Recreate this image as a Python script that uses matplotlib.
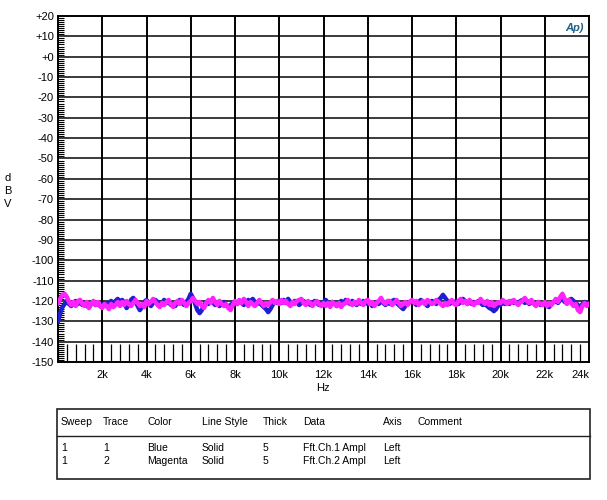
import numpy as np
import matplotlib

matplotlib.use("Agg")
import matplotlib.pyplot as plt
from matplotlib.ticker import MultipleLocator, FixedLocator

plt.rcParams["font.family"] = ["Liberation Sans", "DejaVu Sans"]

# %%
# FFT amplitude, dBV at 100 Hz steps (0 .. 24 kHz)
# one row per kHz
ch1_dbv = [
    -130, -126, -123, -121.5, -120, -121.5, -122.5, -121, -120, -121.5,
    -120.5, -122, -121, -122.5, -123, -121.5, -120.5, -122, -121, -122.5,
    -122, -121, -122.5, -121, -120, -121.5, -120, -119, -120.5, -119.5,
    -121, -123.5, -122, -119.5, -118.5, -120, -122.5, -124.5, -123, -120.5,
    -119.5, -121, -122.5, -121, -119.5, -120.5, -122, -121, -119.5, -121,
    -120.5, -122, -121, -122.5, -120.5, -119.5, -121, -122, -120.5, -119,
    -116.5, -118.5, -121.5, -124.5, -126, -124.5, -122, -120.5, -121.5, -120,
    -120.5, -122, -121, -122.5, -121.5, -120.5, -122, -123, -122, -121,
    -120.5, -121.5, -120, -121, -122, -120.5, -119.5, -120.5, -119, -120.5,
    -121.5, -120.5, -122, -123, -124, -125.5, -124, -122, -120.5, -121,
    -120, -121, -119.5, -121, -119, -120.5, -121.5, -120, -120.5, -122,
    -121, -120, -121.5, -120.5, -122, -121.5, -120, -121, -122, -121,
    -120.5, -119.5, -121, -122, -120.5, -121.5, -122.5, -121, -120, -121.5,
    -119.5, -120.5, -121.5, -120, -121, -122, -120.5, -121.5, -120, -121,
    -121.5, -120.5, -122.5, -121.5, -120.5, -121.5, -120, -121, -122, -120.5,
    -121.5, -120, -119.5, -121, -122, -123, -124, -122.5, -121, -120.5,
    -120, -121, -122, -120.5, -119.5, -120.5, -121.5, -122.5, -121, -120,
    -120.5, -121.5, -119.5, -118.5, -117, -118.5, -120, -121.5, -120.5, -121,
    -120, -121.5, -120.5, -119, -120, -121.5, -120.5, -121.5, -120.5, -121,
    -120, -121, -122, -121.5, -122.5, -123.5, -124, -125, -124, -122,
    -122, -120.5, -121.5, -120.5, -121.5, -120, -121, -120.5, -121.5, -120,
    -119.5, -121, -120, -121.5, -120.5, -121, -122, -120.5, -122, -121.5,
    -121, -122.5, -123, -121.5, -120.5, -120, -121, -119.5, -119, -120.5,
    -121, -119.5, -119, -120, -121, -122, -123, -121.5, -120.5, -121.5,
    -122,
]
ch2_dbv = [
    -121, -119, -117, -116.5, -118, -120.5, -122, -120.5, -122.5, -120,
    -119.5, -121.5, -122.5, -120.5, -123.5, -121.5, -120, -122, -120.5, -122.5,
    -123.5, -121.5, -122.5, -124, -121.5, -123, -122, -120.5, -122.5, -120.5,
    -122, -120, -121.5, -122.5, -121, -119.5, -121, -122.5, -121.5, -123,
    -120, -121.5, -120.5, -119, -120.5, -122, -123, -121, -122, -120.5,
    -119.5, -121.5, -123, -121, -120, -121.5, -119.5, -121, -122.5, -121,
    -120, -118.5, -120, -121.5, -120.5, -122.5, -123.5, -121, -119.5, -121,
    -118.5, -120.5, -122, -120, -121.5, -122.5, -121.5, -123.5, -124.5, -122,
    -120, -121.5, -119.5, -121, -119, -120.5, -122.5, -120.5, -121.5, -122.5,
    -121, -119.5, -121, -122.5, -121, -122, -120.5, -119.5, -121, -120,
    -121.5, -119.5, -121, -120, -121.5, -122.5, -120.5, -121.5, -120, -119.5,
    -119, -121, -122, -120, -121, -122.5, -121, -120, -121.5, -122.5,
    -121, -122.5, -121, -123, -120.5, -121.5, -122.5, -121, -123, -121.5,
    -121, -119.5, -121, -122, -120.5, -121.5, -119.5, -121, -122, -120,
    -119.5, -121.5, -120.5, -122.5, -121, -120, -118.5, -120.5, -121.5, -120,
    -120, -122, -121, -119.5, -121, -122.5, -121.5, -120.5, -122, -120.5,
    -119.5, -121, -120, -122, -121, -120, -121.5, -119.5, -120.5, -121.5,
    -121, -119.5, -120.5, -121.5, -122.5, -121, -122, -120.5, -119.5, -121.5,
    -122, -120, -119, -121, -120, -121.5, -119.5, -121, -122, -120.5,
    -121, -119, -120.5, -121.5, -120, -122, -120.5, -122.5, -121.5, -120.5,
    -121, -119.5, -120.5, -121.5, -120, -121, -119.5, -121, -122, -120.5,
    -120, -118.5, -120, -121, -119.5, -121.5, -122.5, -120.5, -121.5, -122,
    -120.5, -122.5, -121, -122, -120.5, -119, -120.5, -118, -116.5, -119,
    -121.5, -119.5, -121, -122.5, -121.5, -124.5, -125.5, -122.5, -121, -122.5,
    -121.5,
]
freq_hz = np.linspace(0, 24000, len(ch1_dbv))

y_ticks = list(range(20, -151, -10))
y_labels = [f"+{v}" if v >= 0 else str(v) for v in y_ticks]
x_ticks = list(range(2000, 24001, 2000))
x_labels = [f"{v // 1000}k" for v in x_ticks]

table_header = ["Sweep", "Trace", "Color", "Line Style", "Thick", "Data", "Axis", "Comment"]
table_rows = [
    ["1", "1", "Blue", "Solid", "5", "Fft.Ch.1 Ampl", "Left", ""],
    ["1", "2", "Magenta", "Solid", "5", "Fft.Ch.2 Ampl", "Left", ""],
]

# %%
W, H = 607, 500
fig = plt.figure(figsize=(W / 100, H / 100), dpi=100)
ax = fig.add_axes([58 / W, 1 - 362 / H, (589 - 58) / W, (362 - 16) / H])

ax.plot(freq_hz, ch1_dbv, color="#1f1fd0", lw=3.2, solid_joinstyle="round", zorder=3)
ax.plot(freq_hz, ch2_dbv, color="#ff22ff", lw=3.2, solid_joinstyle="round", zorder=4)

ax.set_xlim(0, 24000)
ax.set_ylim(-150, 20)

for v in y_ticks[1:-1]:
    ax.axhline(v, color="#3a3a3a", lw=1.4, zorder=1)
for v in x_ticks[:-1]:
    ax.axvline(v, color="black", lw=1.4, zorder=1)

ax.yaxis.set_major_locator(FixedLocator(y_ticks))
ax.set_yticklabels(y_labels)
ax.yaxis.set_minor_locator(MultipleLocator(1))
ax.xaxis.set_major_locator(FixedLocator(x_ticks))
ax.set_xticklabels(x_labels)
ax.xaxis.set_minor_locator(MultipleLocator(400))

ax.tick_params(axis="y", which="major", length=0, pad=3, labelsize=8)
ax.tick_params(axis="y", which="minor", direction="in", length=4, width=0.8)
ax.tick_params(axis="x", which="major", length=0, pad=6, labelsize=8)
ax.tick_params(axis="x", which="minor", direction="in", length=13, width=0.9)
ax.xaxis.get_majorticklabels()[-1].set_horizontalalignment("right")
ax.xaxis.get_majorticklabels()[-1].set_x(24000)

for s in ax.spines.values():
    s.set_linewidth(1.4)

fig.text(8 / W, 1 - 191 / H, "d\nB\nV", ha="center", va="center", fontsize=8, linespacing=1.35)
fig.text(323 / W, 1 - 388 / H, "Hz", ha="center", va="center", fontsize=8)

# Audio Precision logo
fig.text(574 / W, 1 - 28 / H, "Ap)", ha="center", va="center", fontsize=8,
         style="italic", color="#1f5f8b", fontweight="bold")

# %%
# trace legend table
box = plt.Rectangle((57 / W, 1 - 479 / H), (590 - 57) / W, (479 - 409) / H,
                    transform=fig.transFigure, fill=False, lw=1.2, ec="#222222")
fig.add_artist(box)
fig.add_artist(plt.Line2D([57 / W, 590 / W], [1 - 435.5 / H] * 2,
                          transform=fig.transFigure, color="#222222", lw=1))

col_x = [61, 103, 147, 202, 263, 303, 383, 418]
for cx, txt in zip(col_x, table_header):
    fig.text(cx / W, 1 - 422 / H, txt, ha="left", va="center", fontsize=7.5)
for row, ry in zip(table_rows, [448, 461]):
    for cx, txt in zip(col_x, row):
        fig.text(cx / W, 1 - ry / H, txt, ha="left", va="center", fontsize=7.5)

fig.savefig("out.png", dpi=100)
